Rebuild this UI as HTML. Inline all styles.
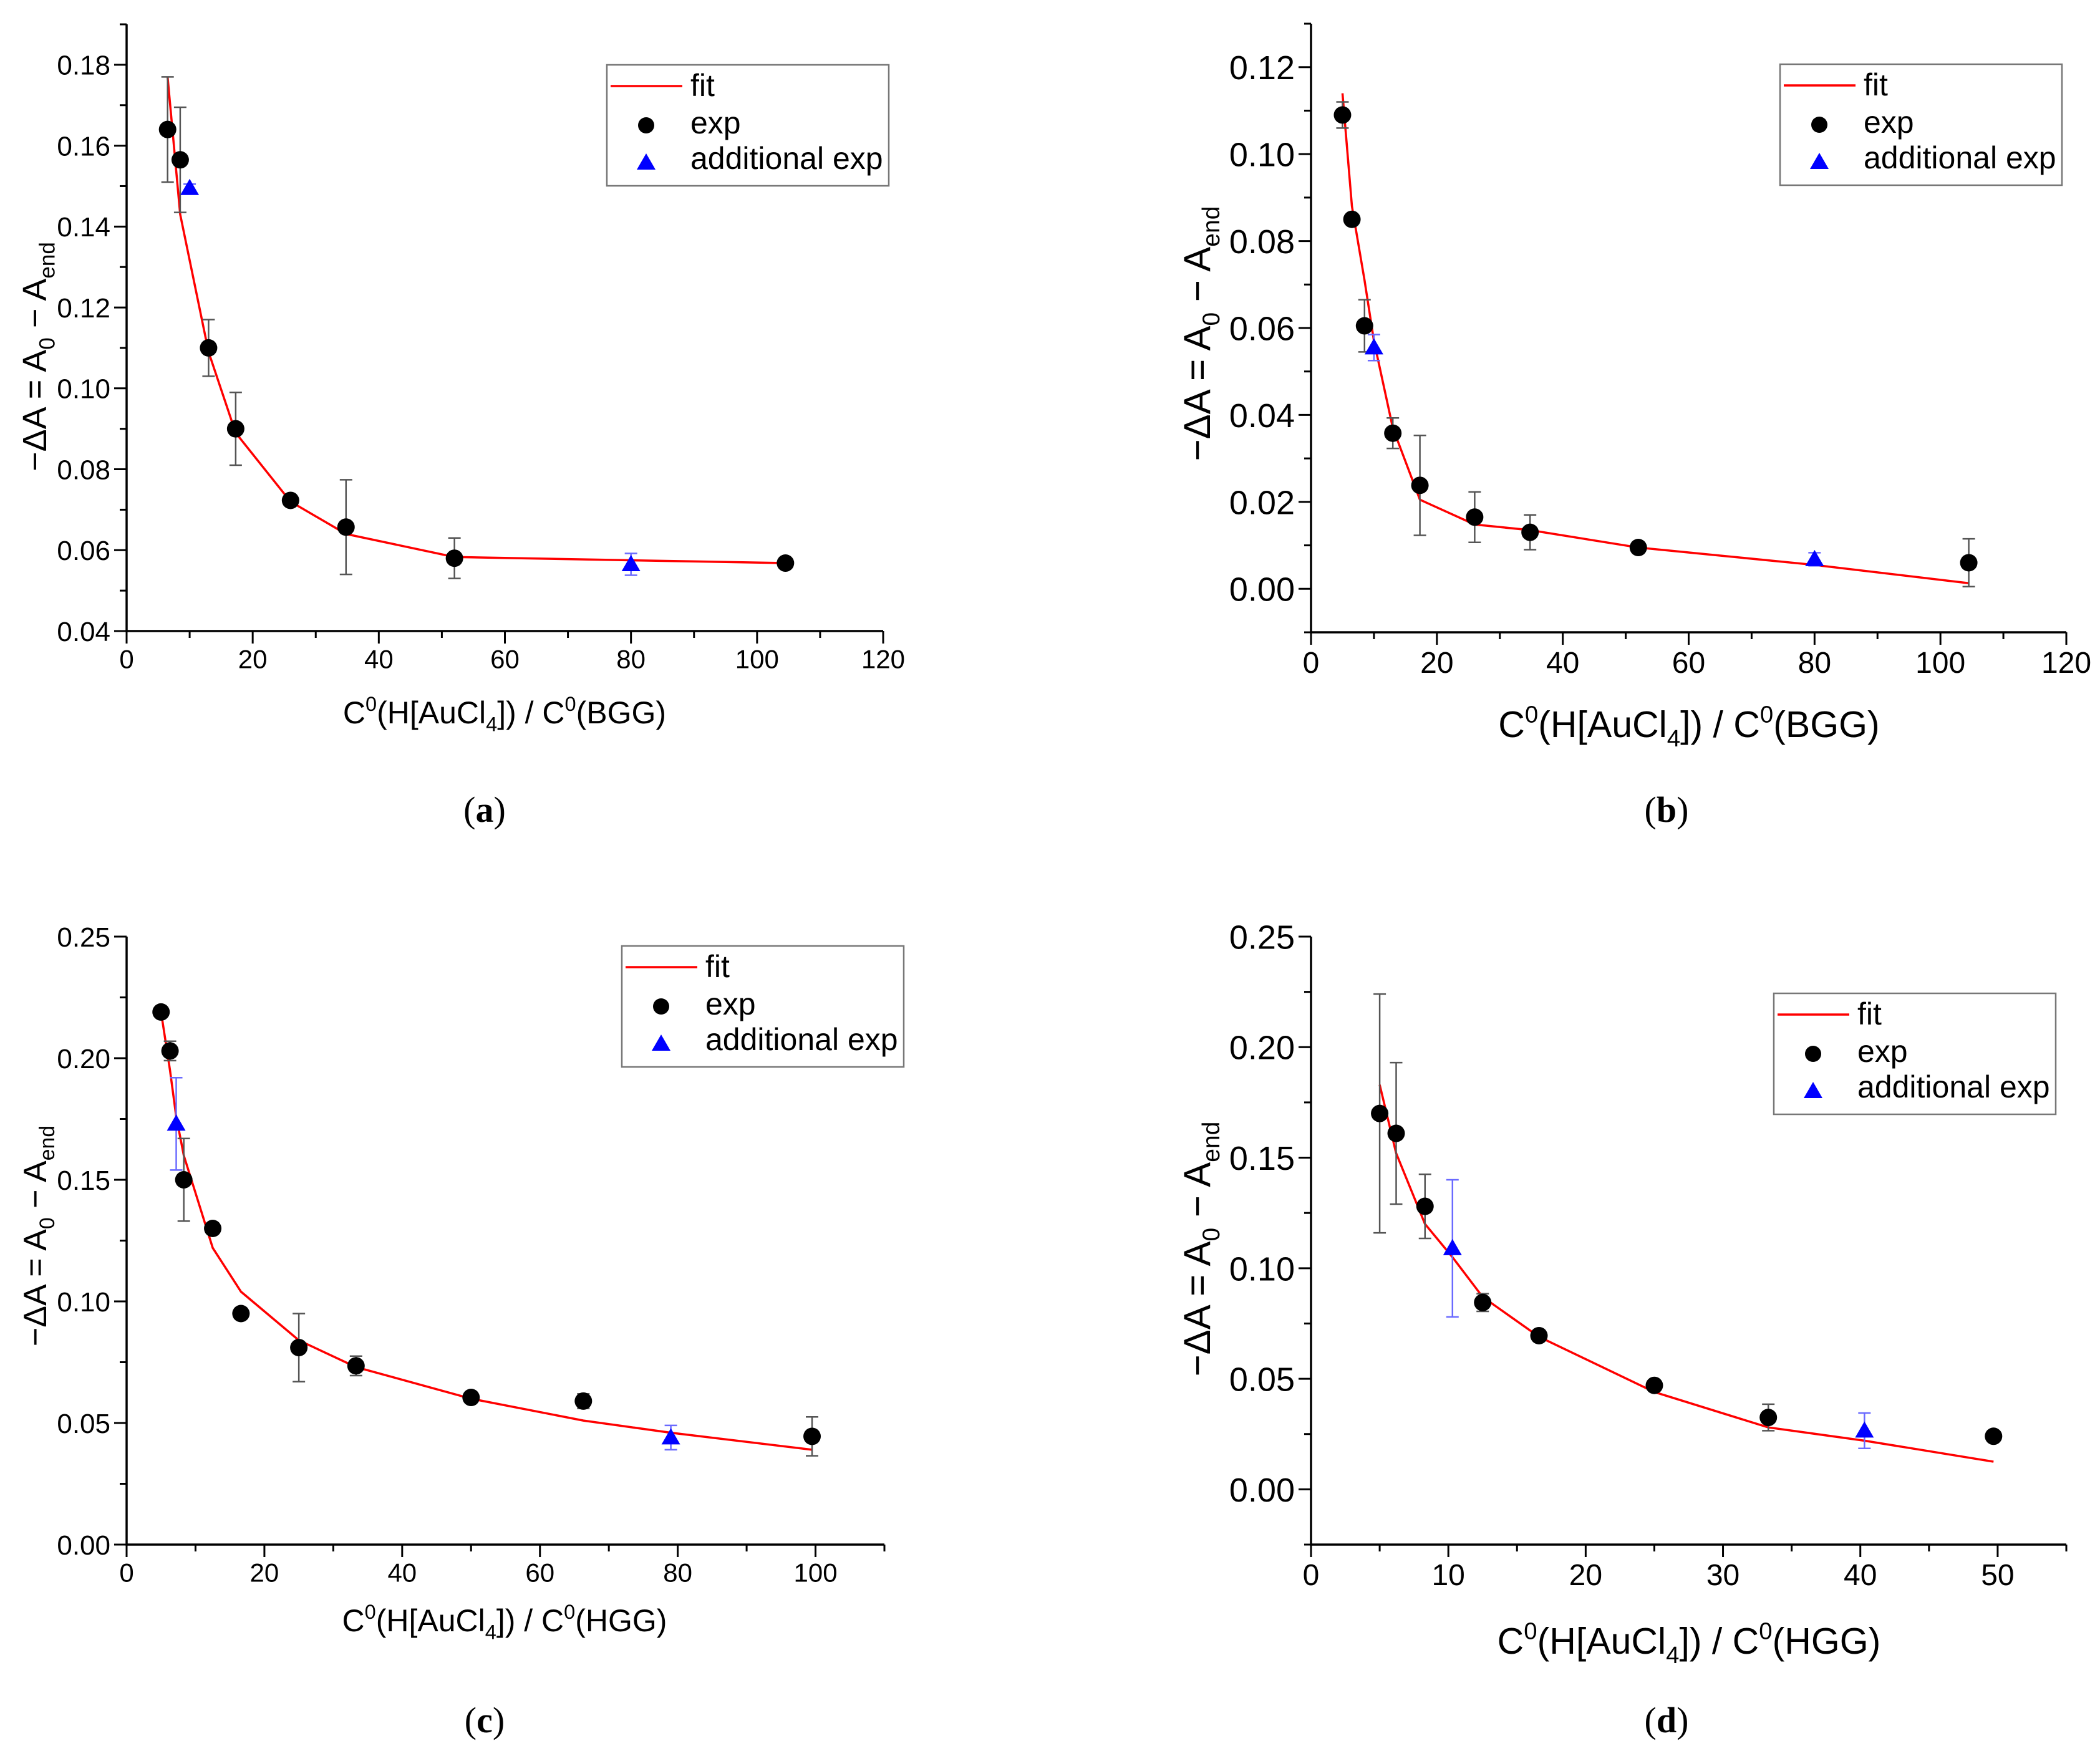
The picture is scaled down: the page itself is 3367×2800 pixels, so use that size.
<!DOCTYPE html>
<html><head><meta charset="utf-8">
<style>
html,body{margin:0;padding:0;background:#fff;}
svg{display:block;font-family:"Liberation Sans",Arial,sans-serif;}
</style></head>
<body>
<svg id="fig" width="3367" height="2800" viewBox="0 0 3367 2800" xmlns="http://www.w3.org/2000/svg"></svg>
<script>
// ---- Panel (a) data ----
const aExpX = [6.5, 8.5, 13, 17.3, 26, 34.8, 52, 104.5];
const aExpY = [0.164, 0.1565, 0.110, 0.090, 0.0723, 0.0657, 0.058, 0.0568];
const aExpErr = [0.013, 0.013, 0.007, 0.009, 0.001, 0.0117, 0.005, 0.001];
const aAddX = [10, 80];
const aAddY = [0.1495, 0.0565];
const aAddErr = [0.001, 0.0027];
const aFitX = [6.5, 8.5, 13, 17.3, 26, 34.8, 52, 80, 104.5];
const aFitY = [0.177, 0.143, 0.109, 0.089, 0.072, 0.064, 0.0583, 0.0575, 0.0568];
const aXTicks = [0, 20, 40, 60, 80, 100, 120];
const aYTicks = [0.04, 0.06, 0.08, 0.10, 0.12, 0.14, 0.16, 0.18];
// ---- Panel (b) data ----
const bExpX = [5, 6.5, 8.5, 13, 17.3, 26, 34.8, 52, 104.5];
const bExpY = [0.109, 0.085, 0.0605, 0.0358, 0.0238, 0.0165, 0.013, 0.0095, 0.006];
const bExpErr = [0.003, 0.001, 0.006, 0.0035, 0.0115, 0.0058, 0.004, 0.0007, 0.0055];
const bAddX = [10, 80];
const bAddY = [0.0555, 0.0068];
const bAddErr = [0.003, 0.0015];
const bFitX = [5, 6.5, 8.5, 10, 13, 17.3, 26, 34.8, 52, 80, 104.5];
const bFitY = [0.114, 0.088, 0.071, 0.057, 0.037, 0.0205, 0.0148, 0.0135, 0.0095, 0.0055, 0.0013];
const bXTicks = [0, 20, 40, 60, 80, 100, 120];
const bYTicks = [0.00, 0.02, 0.04, 0.06, 0.08, 0.10, 0.12];
// ---- Panel (c) data ----
const cExpX = [5, 6.3, 8.3, 12.5, 16.6, 25, 33.3, 50, 66.3, 99.5];
const cExpY = [0.219, 0.203, 0.150, 0.130, 0.095, 0.081, 0.0735, 0.0605, 0.059, 0.0445];
const cExpErr = [0.001, 0.004, 0.017, 0.002, 0.0005, 0.014, 0.004, 0.001, 0.003, 0.008];
const cAddX = [7.2, 79];
const cAddY = [0.173, 0.044];
const cAddErr = [0.019, 0.005];
const cFitX = [5, 6.3, 7.2, 8.3, 12.5, 16.6, 25, 33.3, 50, 66.3, 79, 99.5];
const cFitY = [0.219, 0.195, 0.176, 0.160, 0.122, 0.104, 0.084, 0.073, 0.060, 0.051, 0.046, 0.039];
const cXTicks = [0, 20, 40, 60, 80, 100];
const cYTicks = [0.00, 0.05, 0.10, 0.15, 0.20, 0.25];
// ---- Panel (d) data ----
const dExpX = [5, 6.2, 8.3, 12.5, 16.6, 25, 33.3, 49.7];
const dExpY = [0.170, 0.161, 0.128, 0.0845, 0.0695, 0.047, 0.0325, 0.024];
const dExpErr = [0.054, 0.032, 0.0145, 0.004, 0.0005, 0.001, 0.006, 0.0005];
const dAddX = [10.3, 40.3];
const dAddY = [0.109, 0.0265];
const dAddErr = [0.031, 0.008];
const dFitX = [5, 6.2, 8.3, 10.3, 12.5, 16.6, 25, 33.3, 40.3, 49.7];
const dFitY = [0.183, 0.152, 0.120, 0.105, 0.087, 0.069, 0.044, 0.028, 0.022, 0.0125];
const dXTicks = [0, 10, 20, 30, 40, 50];
const dYTicks = [0.00, 0.05, 0.10, 0.15, 0.20, 0.25];

const NS = "http://www.w3.org/2000/svg";
const svg = document.getElementById('fig');
function mk(tag, attrs, parent){
  const e = document.createElementNS(NS, tag);
  for (const k in attrs) e.setAttribute(k, attrs[k]);
  (parent||svg).appendChild(e);
  return e;
}

function panel(cfg){
  const g = mk('g', {});
  
  
  const sx = v => cfg.px0 + (v - cfg.xmin) / (cfg.xmax - cfg.xmin) * (cfg.px1 - cfg.px0);
  const sy = v => cfg.py0 + (v - cfg.ymin) / (cfg.ymax - cfg.ymin) * (cfg.py1 - cfg.py0);
  const ax = mk('path', {d:`M${cfg.px0},${cfg.py1} L${cfg.px0},${cfg.py0} L${cfg.px1},${cfg.py0}`, fill:'none', stroke:'#000', 'stroke-width':3.5}, g);
  
  
  const xstep = cfg.xTicks[1] - cfg.xTicks[0];
  for (let v = cfg.xmin; v <= cfg.xmax + 1e-9; v += xstep/2){
    const major = cfg.xTicks.some(t => Math.abs(t - v) < 1e-9);
    mk('line', {x1:sx(v), x2:sx(v), y1:cfg.py0, y2:cfg.py0 + (major?20:11), stroke:'#000', 'stroke-width':3}, g);
  }
  cfg.xTicks.forEach(t => {
    const tx = mk('text', {x:sx(t), y:cfg.py0 + 24 + cfg.xtickFs*0.85, 'font-size':cfg.xtickFs, 'text-anchor':'middle'}, g);
    tx.textContent = String(t);
    
    
  });
  const ystep = cfg.yTicks[1] - cfg.yTicks[0];
  for (let v = cfg.yTicks[0] - Math.floor((cfg.yTicks[0]-cfg.ymin)/(ystep/2)+1e-6)*ystep/2; v <= cfg.ymax + 1e-9; v += ystep/2){
    if (v < cfg.ymin - 1e-9) continue;
    const major = cfg.yTicks.some(t => Math.abs(t - v) < 1e-9);
    mk('line', {x1:cfg.px0 - (major?20:11), x2:cfg.px0, y1:sy(v), y2:sy(v), stroke:'#000', 'stroke-width':3}, g);
  }
  cfg.yTicks.forEach(t => {
    const ty = mk('text', {x:cfg.px0 - 26, y:sy(t) + cfg.ytickFs*0.36, 'font-size':cfg.ytickFs, 'text-anchor':'end'}, g);
    ty.textContent = t.toFixed(2);
    
    
  });
  const F = cfg.titleFs;
  const xt = mk('text', {x:cfg.xtx, y:cfg.xty, 'font-size':F, 'text-anchor':'middle'}, g);
  
  
  xt.innerHTML = `C<tspan dy="-${F*0.4}" font-size="${F*0.65}">0</tspan><tspan dy="${F*0.4}">(H[AuCl</tspan><tspan dy="${F*0.25}" font-size="${F*0.65}">4</tspan><tspan dy="-${F*0.25}">]) / C</tspan><tspan dy="-${F*0.4}" font-size="${F*0.65}">0</tspan><tspan dy="${F*0.4}">(${cfg.sample})</tspan>`;
  const YF = cfg.ytitleFs;
  const yt = mk('text', {x:0, y:0, 'font-size':YF, 'text-anchor':'middle', transform:`translate(${cfg.ytx},${cfg.yty}) rotate(-90)`}, g);
  
  
  yt.innerHTML = `\u2212\u0394A = A<tspan dy="${YF*0.25}" font-size="${YF*0.65}">0</tspan><tspan dy="-${YF*0.25}"> \u2212 A</tspan><tspan dy="${YF*0.25}" font-size="${YF*0.65}">end</tspan>`;
  const fit = mk('polyline', {points: cfg.fitX.map((x,i)=>sx(x)+','+sy(cfg.fitY[i])).join(' '), fill:'none', stroke:'#ff0000', 'stroke-width':3.5}, g);
  
  
  function ebar(x, y, e, col){
    const X = sx(x), y1 = sy(y+e), y2 = sy(y-e);
    mk('line', {x1:X, x2:X, y1:y1, y2:y2, stroke:col, 'stroke-width':2.5}, g);
    mk('line', {x1:X-10, x2:X+10, y1:y1, y2:y1, stroke:col, 'stroke-width':2.5}, g);
    mk('line', {x1:X-10, x2:X+10, y1:y2, y2:y2, stroke:col, 'stroke-width':2.5}, g);
  }
  cfg.expX.forEach((x,i)=>ebar(x, cfg.expY[i], cfg.expErr[i], '#555'));
  cfg.addX.forEach((x,i)=>ebar(x, cfg.addY[i], cfg.addErr[i], '#6a6aff'));
  cfg.expX.forEach((x,i)=>{
    const c = mk('circle', {cx:sx(x), cy:sy(cfg.expY[i]), r:14, fill:'#000'}, g);
    
    
  });
  cfg.addX.forEach((x,i)=>{
    const X = sx(x), Y = sy(cfg.addY[i]);
    const t = mk('polygon', {points:`${X},${Y-15} ${X+15},${Y+11} ${X-15},${Y+11}`, fill:'#0000ff'}, g);
    
    
  });
  const L = cfg.leg;
  const lg = mk('g', {}, g);
  
  
  mk('rect', {x:L[0], y:L[1], width:452, height:194, fill:'#fff', stroke:'#777', 'stroke-width':2.5}, lg);
  mk('line', {x1:L[0]+6, x2:L[0]+121, y1:L[1]+34, y2:L[1]+34, stroke:'#ff0000', 'stroke-width':3.5}, lg);
  mk('circle', {cx:L[0]+63, cy:L[1]+97, r:13, fill:'#000'}, lg);
  const tx0 = L[0]+63, ty0 = L[1]+157;
  mk('polygon', {points:`${tx0},${ty0-15} ${tx0+15},${ty0+11} ${tx0-15},${ty0+11}`, fill:'#0000ff'}, lg);
  [['fit',50],['exp',110],['additional exp',167]].forEach(([s,dy])=>{
    const t = mk('text', {x:L[0]+134, y:L[1]+dy, 'font-size':50}, lg);
    t.textContent = s;
    
    
  });
  const pl = mk('text', {x:cfg.labx, y:cfg.laby, 'font-size':58, 'font-family':'"Liberation Serif",serif', 'text-anchor':'middle'}, g);
  pl.innerHTML = `(<tspan font-weight="bold">${cfg.id}</tspan>)`;
  
  
}

panel({id:'a', px0:203, px1:1416, py0:1012, py1:39, xmin:0, xmax:120, ymin:0.04, ymax:0.19,
  xTicks:aXTicks, yTicks:aYTicks, expX:aExpX, expY:aExpY, expErr:aExpErr, addX:aAddX, addY:aAddY, addErr:aAddErr,
  fitX:aFitX, fitY:aFitY, xtickFs:42, ytickFs:44, titleFs:50, ytitleFs:54, sample:'BGG', xtx:809, xty:1160, ytx:74, yty:572, leg:[973,104], labx:777, laby:1318});
panel({id:'b', px0:2102, px1:3313, py0:1014, py1:38, xmin:0, xmax:120, ymin:-0.01, ymax:0.13,
  xTicks:bXTicks, yTicks:bYTicks, expX:bExpX, expY:bExpY, expErr:bExpErr, addX:bAddX, addY:bAddY, addErr:bAddErr,
  fitX:bFitX, fitY:bFitY, xtickFs:48, ytickFs:54, titleFs:59, ytitleFs:60, sample:'BGG', xtx:2708, xty:1182, ytx:1940, yty:535, leg:[2854,103], labx:2672, laby:1318});
panel({id:'c', px0:203, px1:1418, py0:2477, py1:1502, xmin:0, xmax:110, ymin:0, ymax:0.25,
  xTicks:cXTicks, yTicks:cYTicks, expX:cExpX, expY:cExpY, expErr:cExpErr, addX:cAddX, addY:cAddY, addErr:cAddErr,
  fitX:cFitX, fitY:cFitY, xtickFs:42, ytickFs:44, titleFs:50, ytitleFs:52, sample:'HGG', xtx:809, xty:2616, ytx:74, yty:1982, leg:[997,1517], labx:777, laby:2778});
panel({id:'d', px0:2102, px1:3313, py0:2477, py1:1502, xmin:0, xmax:55, ymin:-0.025, ymax:0.25,
  xTicks:dXTicks, yTicks:dYTicks, expX:dExpX, expY:dExpY, expErr:dExpErr, addX:dAddX, addY:dAddY, addErr:dAddErr,
  fitX:dFitX, fitY:dFitY, xtickFs:48, ytickFs:54, titleFs:59, ytitleFs:60, sample:'HGG', xtx:2708, xty:2652, ytx:1940, yty:2003, leg:[2844,1593], labx:2672, laby:2778});
</script>
</body></html>
